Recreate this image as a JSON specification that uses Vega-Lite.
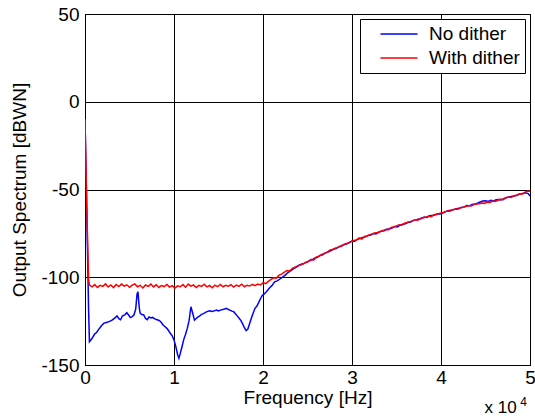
{
  "$schema": "https://vega.github.io/schema/vega-lite/v6.json",
  "width": 445,
  "height": 351,
  "autosize": {"type": "none"},
  "padding": {"left": 85, "top": 14, "right": 5, "bottom": 54},
  "background": "white",
  "datasets": {
    "nodither": [
      {"f":0,"db":-10},{"f":0.02,"db":-62},{"f":0.04,"db":-118},{"f":0.05,"db":-136.7},{"f":0.07,"db":-135.5},{"f":0.09,"db":-133.9},{"f":0.11,"db":-132.2},{"f":0.13,"db":-131.5},{"f":0.15,"db":-130},{"f":0.17,"db":-128.6},{"f":0.19,"db":-127.4},{"f":0.21,"db":-126.3},{"f":0.24,"db":-125.8},{"f":0.27,"db":-125.3},{"f":0.3,"db":-124.6},{"f":0.33,"db":-123.4},{"f":0.36,"db":-122},{"f":0.38,"db":-123.6},{"f":0.4,"db":-124.2},{"f":0.42,"db":-122.1},{"f":0.45,"db":-121.3},{"f":0.47,"db":-120.2},{"f":0.49,"db":-121.5},{"f":0.51,"db":-123},{"f":0.53,"db":-122.4},{"f":0.55,"db":-121.5},{"f":0.57,"db":-118},{"f":0.585,"db":-109.5},{"f":0.595,"db":-108.3},{"f":0.61,"db":-117.5},{"f":0.62,"db":-120.6},{"f":0.64,"db":-121.2},{"f":0.66,"db":-121.5},{"f":0.68,"db":-123.5},{"f":0.7,"db":-124.2},{"f":0.72,"db":-122.6},{"f":0.74,"db":-123.2},{"f":0.76,"db":-122.9},{"f":0.78,"db":-123.6},{"f":0.8,"db":-124.1},{"f":0.82,"db":-124.4},{"f":0.84,"db":-124.8},{"f":0.86,"db":-125.9},{"f":0.88,"db":-127.4},{"f":0.9,"db":-128.2},{"f":0.92,"db":-129.1},{"f":0.94,"db":-130.5},{"f":0.96,"db":-132.1},{"f":0.98,"db":-133.4},{"f":1.0,"db":-135.8},{"f":1.02,"db":-139.4},{"f":1.04,"db":-144},{"f":1.055,"db":-146.2},{"f":1.07,"db":-143.5},{"f":1.09,"db":-139.6},{"f":1.11,"db":-135.4},{"f":1.13,"db":-132.5},{"f":1.15,"db":-129},{"f":1.17,"db":-124.6},{"f":1.19,"db":-116.8},{"f":1.21,"db":-120.5},{"f":1.23,"db":-124.4},{"f":1.25,"db":-123.5},{"f":1.27,"db":-122.6},{"f":1.29,"db":-122},{"f":1.31,"db":-121.1},{"f":1.33,"db":-120.7},{"f":1.35,"db":-120.2},{"f":1.37,"db":-119.6},{"f":1.4,"db":-119.1},{"f":1.43,"db":-119.5},{"f":1.46,"db":-119},{"f":1.48,"db":-118.7},{"f":1.5,"db":-119.2},{"f":1.53,"db":-118.6},{"f":1.56,"db":-118.2},{"f":1.59,"db":-117.7},{"f":1.61,"db":-118.4},{"f":1.63,"db":-118.7},{"f":1.65,"db":-119.3},{"f":1.67,"db":-119.6},{"f":1.69,"db":-120.8},{"f":1.71,"db":-122},{"f":1.73,"db":-123.2},{"f":1.75,"db":-124.6},{"f":1.77,"db":-126.4},{"f":1.79,"db":-128.6},{"f":1.81,"db":-130.4},{"f":1.83,"db":-129.5},{"f":1.85,"db":-126.3},{"f":1.87,"db":-123.2},{"f":1.89,"db":-120.4},{"f":1.91,"db":-117.7},{"f":1.93,"db":-116.5},{"f":1.95,"db":-114.6},{"f":1.97,"db":-112.4},{"f":1.99,"db":-110.5},{"f":2.02,"db":-109.2},{"f":2.05,"db":-107.6},{"f":2.08,"db":-105.7},{"f":2.1,"db":-104.8},{"f":2.13,"db":-102.6},{"f":2.16,"db":-102.1},{"f":2.19,"db":-101},{"f":2.22,"db":-99.9},{"f":2.25,"db":-98.8},{"f":2.28,"db":-97.3},{"f":2.31,"db":-96.4},{"f":2.34,"db":-95.2},{"f":2.37,"db":-94.4},{"f":2.4,"db":-93.2},{"f":2.43,"db":-92.6},{"f":2.46,"db":-92.1},{"f":2.49,"db":-91.5},{"f":2.52,"db":-90.6},{"f":2.55,"db":-90.1},{"f":2.58,"db":-89.2},{"f":2.61,"db":-88.6},{"f":2.64,"db":-87.6},{"f":2.67,"db":-87.2},{"f":2.7,"db":-86.1},{"f":2.73,"db":-85.6},{"f":2.76,"db":-84.9},{"f":2.79,"db":-84.1},{"f":2.82,"db":-83.6},{"f":2.85,"db":-82.7},{"f":2.88,"db":-82.4},{"f":2.91,"db":-81.3},{"f":2.94,"db":-81.1},{"f":2.97,"db":-80.2},{"f":3.0,"db":-79.4},{"f":3.03,"db":-79.5},{"f":3.06,"db":-78.4},{"f":3.09,"db":-77.9},{"f":3.12,"db":-77.3},{"f":3.15,"db":-77},{"f":3.18,"db":-76.2},{"f":3.21,"db":-75.9},{"f":3.24,"db":-75.1},{"f":3.27,"db":-75.3},{"f":3.3,"db":-74.2},{"f":3.33,"db":-73.8},{"f":3.36,"db":-73.5},{"f":3.39,"db":-72.7},{"f":3.42,"db":-72.4},{"f":3.45,"db":-71.9},{"f":3.48,"db":-71.1},{"f":3.51,"db":-71.3},{"f":3.54,"db":-70.3},{"f":3.57,"db":-69.8},{"f":3.6,"db":-69.5},{"f":3.63,"db":-68.7},{"f":3.66,"db":-68.5},{"f":3.69,"db":-67.6},{"f":3.72,"db":-67.3},{"f":3.75,"db":-66.8},{"f":3.78,"db":-66.6},{"f":3.81,"db":-65.7},{"f":3.84,"db":-65.9},{"f":3.87,"db":-65},{"f":3.9,"db":-64.8},{"f":3.93,"db":-64.6},{"f":3.96,"db":-63.8},{"f":3.99,"db":-63.9},{"f":4.02,"db":-63.4},{"f":4.05,"db":-62.6},{"f":4.08,"db":-62.1},{"f":4.11,"db":-61.8},{"f":4.14,"db":-61.6},{"f":4.17,"db":-60.9},{"f":4.2,"db":-60.7},{"f":4.23,"db":-60.2},{"f":4.26,"db":-59.9},{"f":4.29,"db":-59.1},{"f":4.32,"db":-59.3},{"f":4.35,"db":-58.5},{"f":4.38,"db":-58.2},{"f":4.41,"db":-57.8},{"f":4.44,"db":-57.1},{"f":4.47,"db":-56.6},{"f":4.5,"db":-56.4},{"f":4.53,"db":-56.8},{"f":4.56,"db":-56.2},{"f":4.59,"db":-56.5},{"f":4.62,"db":-55.9},{"f":4.65,"db":-55.7},{"f":4.68,"db":-56.0},{"f":4.71,"db":-55.1},{"f":4.74,"db":-54.6},{"f":4.77,"db":-54.2},{"f":4.8,"db":-53.9},{"f":4.83,"db":-53.7},{"f":4.86,"db":-53.1},{"f":4.89,"db":-52.5},{"f":4.92,"db":-52.2},{"f":4.95,"db":-51.9},{"f":4.98,"db":-52.3},{"f":5.0,"db":-53.7}
    ],
    "dither": [
      {"f":0,"db":-10},{"f":0.02,"db":-60},{"f":0.04,"db":-101},{"f":0.05,"db":-104.5},{"f":0.08,"db":-105.5},{"f":0.11,"db":-104.2},{"f":0.14,"db":-105.8},{"f":0.17,"db":-104.6},{"f":0.2,"db":-105.2},{"f":0.23,"db":-103.8},{"f":0.26,"db":-105.6},{"f":0.29,"db":-104.4},{"f":0.32,"db":-105.9},{"f":0.35,"db":-104.1},{"f":0.38,"db":-105.3},{"f":0.41,"db":-103.9},{"f":0.44,"db":-105.1},{"f":0.47,"db":-104.3},{"f":0.5,"db":-105.7},{"f":0.53,"db":-104.5},{"f":0.56,"db":-103.8},{"f":0.59,"db":-105.4},{"f":0.62,"db":-104.6},{"f":0.65,"db":-106.1},{"f":0.68,"db":-104.4},{"f":0.71,"db":-105.2},{"f":0.74,"db":-103.9},{"f":0.77,"db":-105.5},{"f":0.8,"db":-104.3},{"f":0.83,"db":-105.8},{"f":0.86,"db":-104.7},{"f":0.89,"db":-105.3},{"f":0.92,"db":-104.1},{"f":0.95,"db":-105.6},{"f":0.98,"db":-104.8},{"f":1.01,"db":-106.2},{"f":1.04,"db":-104.9},{"f":1.07,"db":-105.4},{"f":1.1,"db":-104.2},{"f":1.13,"db":-105.7},{"f":1.16,"db":-103.9},{"f":1.19,"db":-105.1},{"f":1.22,"db":-104.4},{"f":1.25,"db":-105.9},{"f":1.28,"db":-104.6},{"f":1.31,"db":-105.2},{"f":1.34,"db":-104},{"f":1.37,"db":-105.5},{"f":1.4,"db":-104.7},{"f":1.43,"db":-106},{"f":1.46,"db":-104.5},{"f":1.49,"db":-105.3},{"f":1.52,"db":-104.1},{"f":1.55,"db":-105.4},{"f":1.58,"db":-104.6},{"f":1.61,"db":-105.1},{"f":1.64,"db":-104.2},{"f":1.67,"db":-105.6},{"f":1.7,"db":-104.5},{"f":1.73,"db":-105.2},{"f":1.76,"db":-104},{"f":1.79,"db":-105.4},{"f":1.82,"db":-104.6},{"f":1.85,"db":-105},{"f":1.88,"db":-104.1},{"f":1.91,"db":-104.8},{"f":1.94,"db":-103.9},{"f":1.97,"db":-104.4},{"f":2.0,"db":-103.2},{"f":2.03,"db":-103.6},{"f":2.06,"db":-102.4},{"f":2.09,"db":-101.2},{"f":2.12,"db":-100.3},{"f":2.15,"db":-100.6},{"f":2.18,"db":-98.8},{"f":2.21,"db":-98.2},{"f":2.24,"db":-97.1},{"f":2.27,"db":-96.2},{"f":2.3,"db":-96.5},{"f":2.33,"db":-94.9},{"f":2.36,"db":-94.2},{"f":2.39,"db":-93.6},{"f":2.42,"db":-93.1},{"f":2.45,"db":-92.5},{"f":2.48,"db":-91.4},{"f":2.51,"db":-91.1},{"f":2.54,"db":-89.8},{"f":2.57,"db":-90.3},{"f":2.6,"db":-88.4},{"f":2.63,"db":-88.1},{"f":2.66,"db":-87},{"f":2.69,"db":-86.4},{"f":2.72,"db":-85.8},{"f":2.75,"db":-84.6},{"f":2.78,"db":-84.2},{"f":2.81,"db":-83.4},{"f":2.84,"db":-83.1},{"f":2.87,"db":-82.2},{"f":2.9,"db":-81.6},{"f":2.93,"db":-80.9},{"f":2.96,"db":-80.4},{"f":2.99,"db":-79.7},{"f":3.02,"db":-79.1},{"f":3.05,"db":-78.8},{"f":3.08,"db":-77.6},{"f":3.11,"db":-78.3},{"f":3.14,"db":-76.8},{"f":3.17,"db":-76.5},{"f":3.2,"db":-75.7},{"f":3.23,"db":-75.3},{"f":3.26,"db":-74.6},{"f":3.29,"db":-74.8},{"f":3.32,"db":-73.9},{"f":3.35,"db":-73.3},{"f":3.38,"db":-72.8},{"f":3.41,"db":-72.9},{"f":3.44,"db":-71.6},{"f":3.47,"db":-71.3},{"f":3.5,"db":-70.7},{"f":3.53,"db":-70.1},{"f":3.56,"db":-70.4},{"f":3.59,"db":-69.2},{"f":3.62,"db":-68.8},{"f":3.65,"db":-68.3},{"f":3.68,"db":-67.9},{"f":3.71,"db":-67.2},{"f":3.74,"db":-67.5},{"f":3.77,"db":-66.4},{"f":3.8,"db":-66.1},{"f":3.83,"db":-65.8},{"f":3.86,"db":-65.2},{"f":3.89,"db":-65.5},{"f":3.92,"db":-64.4},{"f":3.95,"db":-64.1},{"f":3.98,"db":-63.7},{"f":4.01,"db":-63.2},{"f":4.04,"db":-62.9},{"f":4.07,"db":-62.3},{"f":4.1,"db":-62.4},{"f":4.13,"db":-61.5},{"f":4.16,"db":-61.1},{"f":4.19,"db":-61.3},{"f":4.22,"db":-60.4},{"f":4.25,"db":-60.1},{"f":4.28,"db":-59.7},{"f":4.31,"db":-59.2},{"f":4.34,"db":-59.4},{"f":4.37,"db":-58.6},{"f":4.4,"db":-58.3},{"f":4.43,"db":-58.1},{"f":4.46,"db":-57.7},{"f":4.49,"db":-57.9},{"f":4.52,"db":-57.2},{"f":4.55,"db":-57.4},{"f":4.58,"db":-56.6},{"f":4.61,"db":-56.8},{"f":4.64,"db":-56.1},{"f":4.67,"db":-55.4},{"f":4.7,"db":-55.8},{"f":4.73,"db":-54.7},{"f":4.76,"db":-54.3},{"f":4.79,"db":-54.6},{"f":4.82,"db":-53.6},{"f":4.85,"db":-53.2},{"f":4.88,"db":-52.4},{"f":4.91,"db":-52.7},{"f":4.94,"db":-51.6},{"f":4.97,"db":-50.8},{"f":5.0,"db":-51.0}
    ]
  },
  "layer": [
    {
      "data": {"name": "nodither"},
      "mark": {"type": "line", "strokeWidth": 1.5, "clip": true},
      "encoding": {
        "x": {
          "field": "f", "type": "quantitative",
          "scale": {"domain": [0, 5], "nice": false, "zero": false},
          "axis": {"values": [0, 1, 2, 3, 4, 5], "title": "Frequency  [Hz]", "labelPadding": 3, "titlePadding": 1, "labelExpr": "'' + datum.value"}
        },
        "y": {
          "field": "db", "type": "quantitative",
          "scale": {"domain": [-150, 50], "nice": false},
          "axis": {"values": [-150, -100, -50, 0, 50], "title": "Output Spectrum [dBWN]", "labelPadding": 6, "titlePadding": 11, "labelExpr": "'' + datum.value"}
        },
        "color": {"datum": "No dither"}
      }
    },
    {
      "data": {"name": "dither"},
      "mark": {"type": "line", "strokeWidth": 1.5, "clip": true},
      "encoding": {
        "x": {"field": "f", "type": "quantitative"},
        "y": {"field": "db", "type": "quantitative"},
        "color": {
          "datum": "With dither",
          "scale": {"domain": ["No dither", "With dither"], "range": ["#0000ff", "#ff0000"]},
          "legend": {
            "title": null,
            "orient": "top-right",
            "offset": 5,
            "symbolType": "M-2,0H2",
            "symbolSize": 342,
            "symbolStrokeWidth": 1.5,
            "labelOffset": 20,
            "padding": 5,
            "symbolOffset": 24,
            "strokeColor": "black",
            "fillColor": "white",
            "rowPadding": 4
          }
        }
      }
    },
    {
      "data": {"values": [{}]},
      "mark": {"type": "text", "text": "x 10", "align": "left", "baseline": "alphabetic", "font": "Liberation Sans", "fontSize": 17, "clip": false, "color": "black"},
      "encoding": {"x": {"datum": 4.49, "type": "quantitative"}, "y": {"datum": -177.6, "type": "quantitative"}}
    },
    {
      "data": {"values": [{}]},
      "mark": {"type": "text", "text": "4", "align": "left", "baseline": "alphabetic", "font": "Liberation Sans", "fontSize": 12, "clip": false, "color": "black"},
      "encoding": {"x": {"datum": 4.89, "type": "quantitative"}, "y": {"datum": -173.2, "type": "quantitative"}}
    }
  ],
  "config": {
    "view": {"stroke": "black", "strokeWidth": 1},
    "axis": {
      "domain": true, "domainColor": "black", "domainWidth": 1,
      "grid": true, "gridColor": "black", "gridOpacity": 1, "gridWidth": 1,
      "ticks": false,
      "labelFont": "Liberation Sans", "labelFontSize": 19, "labelColor": "black",
      "titleFont": "Liberation Sans", "titleFontSize": 19, "titleFontWeight": "normal", "titleColor": "black",
      "labelFlush": false, "labelOverlap": false
    },
    "legend": {"labelFont": "Liberation Sans", "labelFontSize": 19, "labelColor": "black"}
  }
}
